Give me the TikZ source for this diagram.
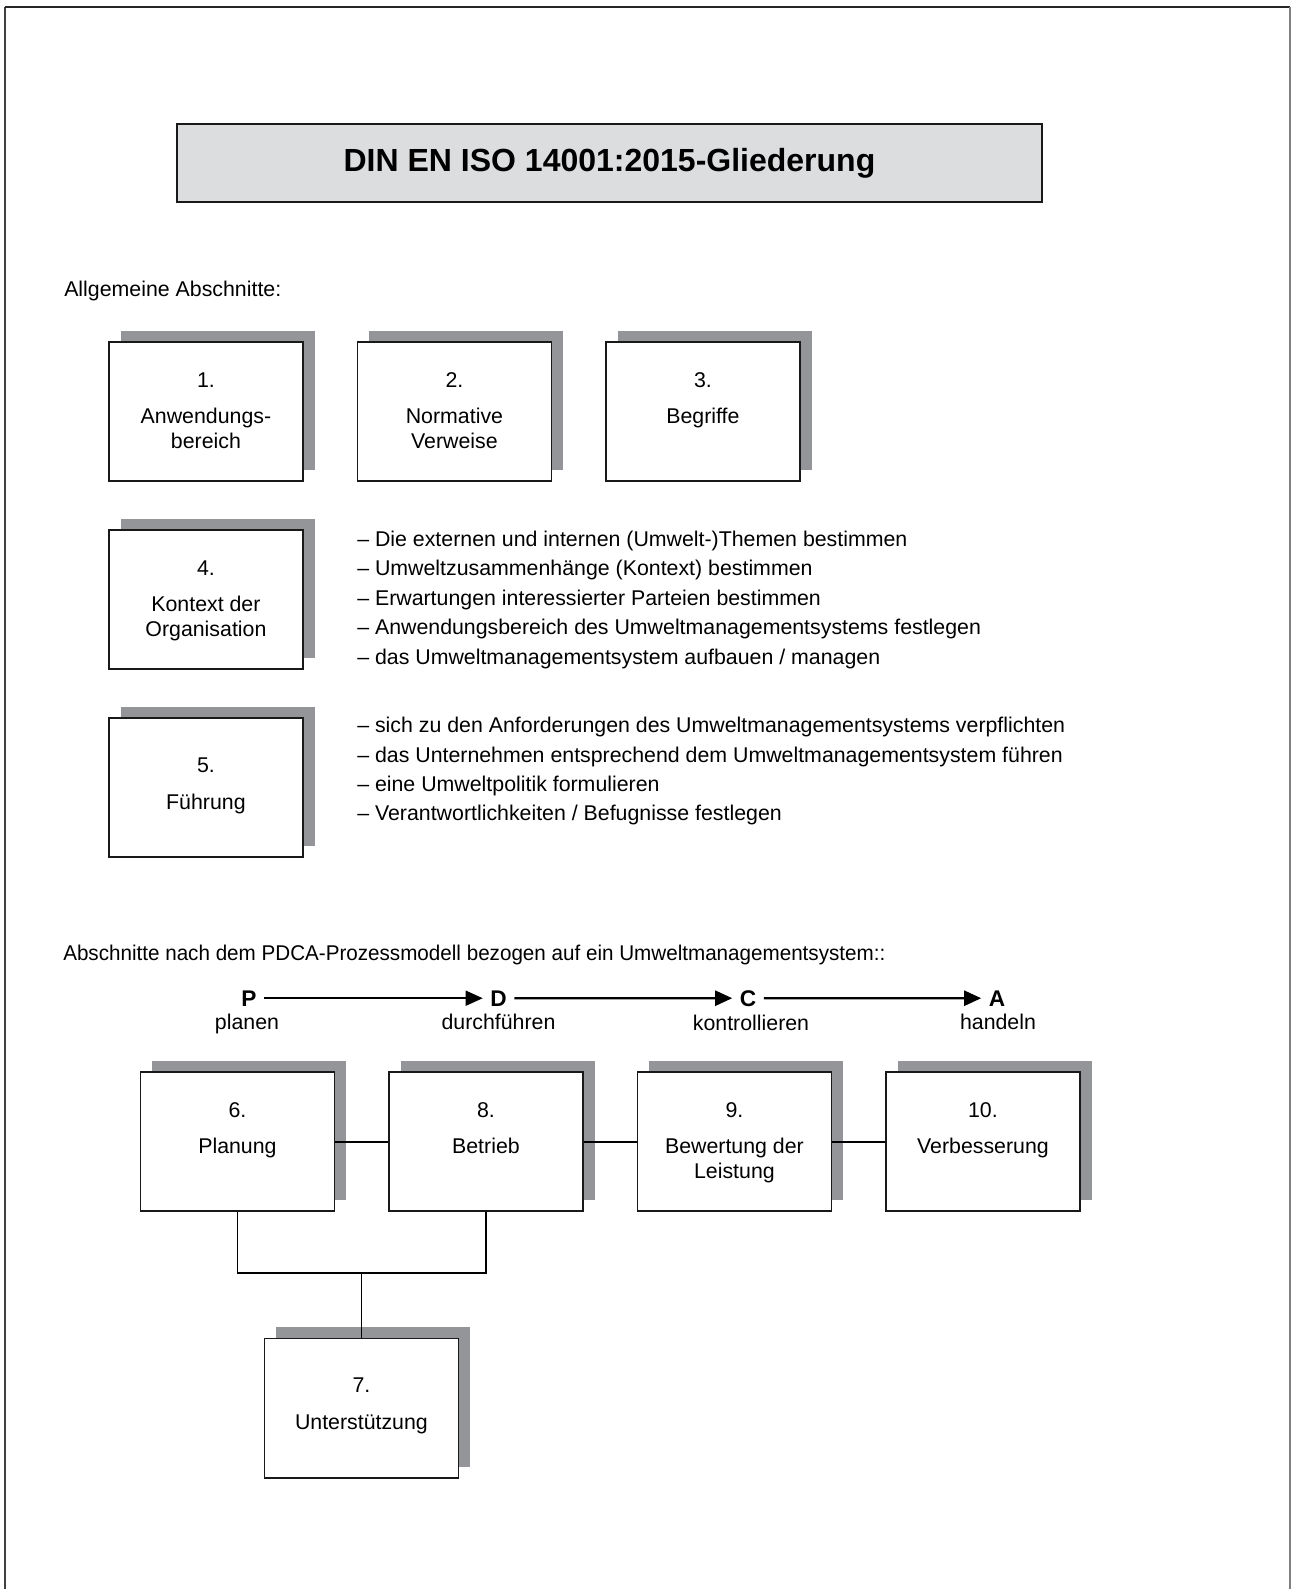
\documentclass[tikz,border=0pt]{standalone}
\usepackage{fontspec}
\setmainfont{Liberation Sans}
\newfontfamily\condfont[FakeStretch=0.967]{Liberation Sans}
\usetikzlibrary{arrows.meta,shadows,calc}
\definecolor{shd}{HTML}{939598}
\definecolor{ttl}{HTML}{DCDDDF}
\begin{document}
\begin{tikzpicture}[x=0.75pt,y=-0.75pt,
  box/.style={draw=black!90, line width=1.4pt, fill=white, minimum width=145.5pt,
    minimum height=104.6pt, inner sep=0pt, anchor=north west,
    drop shadow={shadow xshift=9pt, shadow yshift=8.25pt, opacity=1, fill=shd}},
  txt/.style={font=\fontsize{16}{19}\selectfont, inner sep=0pt, anchor=base},
  ltxt/.style={txt, anchor=base west},
  pd/.style={font=\fontsize{17}{20}\selectfont\bfseries, inner xsep=5.5pt, inner ysep=0pt, anchor=base},
  conn/.style={line width=1.3pt},
  arr/.style={-{Triangle[length=12.75pt, width=11.25pt]}}
]
\useasboundingbox (0,0) rectangle (1291,1589);
% outer frame
\draw[black!75, line width=1.2pt] (5,1589) -- (5,7.3);
\draw[black!85, line width=1.6pt] (5,7.3) -- (1290,7.3);
\draw[black!50, line width=0.9pt] (1290,7.3) -- (1290,1589);

% title
\node[draw=black!90, fill=ttl, line width=1.9pt, minimum width=648.75pt, minimum height=58.5pt,
  font=\fontsize{24}{28}\selectfont\bfseries] (title) at (609.5,163) {DIN EN ISO 14001:2015-Gliederung};

\node[ltxt] (allg) at (64,296.5) {Allgemeine Abschnitte:};

% general boxes
\node[box] (b1) at (108,341) {};
\node[box] (b2) at (356.5,341) {};
\node[box] (b3) at (605,341) {};
\node[box] (b4) at (108,529) {};
\node[box] (b5) at (108,717) {};

\node[txt] (b1a) at ($(b1.north)+(0,46)$) {1.};
\node[txt] (b1b) at ($(b1.north)+(0,82.5)$) {Anwendungs-};
\node[txt] (b1c) at ($(b1.north)+(0,107)$) {bereich};
\node[txt] (b2a) at ($(b2.north)+(0,46)$) {2.};
\node[txt] (b2b) at ($(b2.north)+(0,82.5)$) {Normative};
\node[txt] (b2c) at ($(b2.north)+(0,107)$) {Verweise};
\node[txt] (b3a) at ($(b3.north)+(0,46)$) {3.};
\node[txt] (b3b) at ($(b3.north)+(0,82.5)$) {Begriffe};
\node[txt] (b4a) at ($(b4.north)+(0,46)$) {4.};
\node[txt] (b4b) at ($(b4.north)+(0,82.5)$) {Kontext der};
\node[txt] (b4c) at ($(b4.north)+(0,107)$) {Organisation};
\node[txt] (b5a) at ($(b5.north)+(0,55)$) {5.};
\node[txt] (b5b) at ($(b5.north)+(0,92)$) {Führung};

% lists
\node[ltxt] (l41) at (357,546) {– Die externen und internen (Umwelt-)Themen bestimmen};
\node[ltxt] (l42) at (357,575.5) {– Umweltzusammenhänge (Kontext) bestimmen};
\node[ltxt] (l43) at (357,605) {– Erwartungen interessierter Parteien bestimmen};
\node[ltxt] (l44) at (357,634.5) {– Anwendungsbereich des Umweltmanagementsystems festlegen};
\node[ltxt] (l45) at (357,664) {– das Umweltmanagementsystem aufbauen / managen};
\node[ltxt] (l51) at (357,732.6) {– sich zu den Anforderungen des Umweltmanagementsystems verpflichten};
\node[ltxt] (l52) at (357,762) {– das Unternehmen entsprechend dem Umweltmanagementsystem führen};
\node[ltxt] (l53) at (357,791.4) {– eine Umweltpolitik formulieren};
\node[ltxt] (l54) at (357,820.8) {– Verantwortlichkeiten / Befugnisse festlegen};

% PDCA
\node[ltxt, font=\condfont\fontsize{16}{19}\selectfont] (pdcah) at (63,960.5) {Abschnitte nach dem PDCA-Prozessmodell bezogen auf ein Umweltmanagementsystem::};
\node[pd] (P) at (249,1006) {P};
\node[pd] (D) at (498.5,1006) {D};
\node[pd] (C) at (748,1006) {C};
\node[pd] (A) at (997,1006) {A};
\node[txt] (Pl) at (247,1029.5) {planen};
\node[txt] (Dl) at (498.5,1029.5) {durchführen};
\node[txt] (Cl) at (751,1030.5) {kontrollieren};
\node[txt] (Al) at (998,1029.5) {handeln};
\draw[arr, line width=1.2pt] (P.east) -- (D.west);
\draw[arr, line width=1.8pt] (D.east) -- (C.west);
\draw[arr, line width=1.8pt] (C.east) -- (A.west);

% process boxes
\node[box] (b6) at (139.5,1071) {};
\node[box] (b8) at (388,1071) {};
\node[box] (b9) at (636.5,1071) {};
\node[box] (b10) at (885,1071) {};
\node[box] (b7) at (263.5,1337.5) {};

\node[txt] (b6a) at ($(b6.north)+(0,46)$) {6.};
\node[txt] (b6b) at ($(b6.north)+(0,82.5)$) {Planung};
\node[txt] (b8a) at ($(b8.north)+(0,46)$) {8.};
\node[txt] (b8b) at ($(b8.north)+(0,82.5)$) {Betrieb};
\node[txt] (b9a) at ($(b9.north)+(0,46)$) {9.};
\node[txt] (b9b) at ($(b9.north)+(0,82.5)$) {Bewertung der};
\node[txt] (b9c) at ($(b9.north)+(0,107)$) {Leistung};
\node[txt] (b10a) at ($(b10.north)+(0,46)$) {10.};
\node[txt] (b10b) at ($(b10.north)+(0,82.5)$) {Verbesserung};
\node[txt] (b7a) at ($(b7.north)+(0,55)$) {7.};
\node[txt] (b7b) at ($(b7.north)+(0,92)$) {Unterstützung};

% connectors
\draw[conn] (b6.east) -- (b8.west);
\draw[conn] (b8.east) -- (b9.west);
\draw[conn] (b9.east) -- (b10.west);
\coordinate (j) at ($(b7.north)+(0,-64.5)$);
\draw[conn] (b6.south) -- (b6.south |- j) -- (b8.south |- j) -- (b8.south);
\draw[conn] (j) -- (b7.north);
\end{tikzpicture}
\end{document}
